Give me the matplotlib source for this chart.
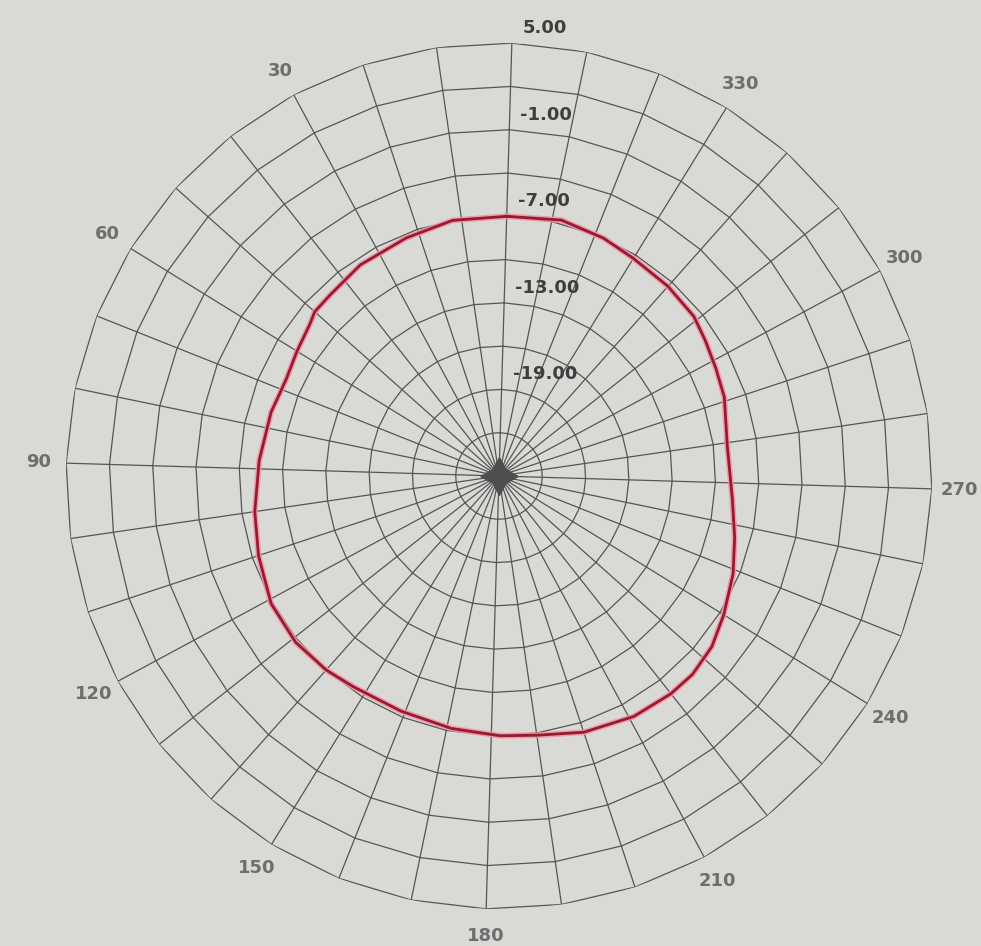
import numpy as np
import matplotlib
matplotlib.use("Agg")
import matplotlib.pyplot as plt
from matplotlib.transforms import offset_copy

# measured pattern (angle in degrees, level in dB)
angle_deg = np.array([0, 12, 23, 35, 45, 50, 53, 60, 67, 72, 76, 88, 100, 110,
                      121, 131, 140, 147, 159, 171, 182, 190, 200, 211, 220,
                      226, 233, 240, 249, 257, 266, 279, 291, 298, 305, 311,
                      320, 330, 338, 348, 360])
level_db = np.array([-7.0, -7.0, -7.3, -7.5, -7.85, -7.9, -8.2, -8.55, -8.8,
                     -8.75, -8.6, -8.35, -7.9, -7.45, -6.9, -6.8, -7.0, -7.25,
                     -7.35, -7.2, -7.0, -6.85, -6.3, -5.9, -5.78, -5.8, -6.1,
                     -6.7, -7.42, -8.12, -8.75, -9.05, -8.46, -8.23, -7.9,
                     -7.55, -7.4, -7.28, -7.0, -6.75, -7.0])

# grid setup
r_min, r_max = -25, 5
ring_db = [-22, -19, -16, -13, -10, -7, -4, -1, 2, 5]
radial_labels = ["5.00", "-1.00", "-7.00", "-13.00", "-19.00"]
radial_label_db = [5, -1, -7, -13, -19]
spoke_deg = np.arange(0, 360, 10)
angle_labels = [30, 60, 90, 120, 150, 180, 210, 240, 270, 300, 330]

bg = "#d9d9d6"
grid_col = "#555555"

fig = plt.figure(figsize=(9.81, 9.46), dpi=100, facecolor=bg)
ax = fig.add_axes([66 / 981, 37 / 946, 866 / 981, 866 / 946], projection="polar")
ax.set_facecolor(bg)
ax.patch.set_alpha(0)
ax.set_theta_zero_location("N")
ax.set_theta_direction(1)
# the photo is turned a little clockwise
ax.set_theta_offset(np.pi / 2 - np.deg2rad(1.7))
ax.set_rlim(r_min, r_max)
ax.set_xticks([])
ax.set_yticks([])
ax.grid(False)
ax.spines["polar"].set_visible(False)

# spokes
for a in spoke_deg:
    ax.plot([np.deg2rad(a), np.deg2rad(a)], [r_min, r_max], color=grid_col, lw=0.9, zorder=1)

# polygon rings
ring_theta = np.deg2rad(np.append(spoke_deg, 360))
for rv in ring_db:
    ax.plot(ring_theta, [rv] * len(ring_theta), color=grid_col, lw=0.9, zorder=1)

# pattern
th = np.deg2rad(angle_deg)
ax.plot(th, level_db, color="#ec95a3", lw=4.2, alpha=0.85, zorder=3,
        solid_joinstyle="round")
ax.plot(th, level_db, color="#9c1730", lw=2.0, zorder=4, solid_joinstyle="round")

# center star
ax.plot([0], [r_min], marker=(4, 1, 0), markersize=27, color="#4e4e4e", zorder=5)

# radial labels
trans = offset_copy(ax.transData, fig=fig, x=11, y=15, units="dots")
for lab, rv in zip(radial_labels, radial_label_db):
    ax.text(0, rv, lab, transform=trans, ha="left", va="center",
            fontsize=13, fontweight="bold", color="#3e3e3e", zorder=6)

# angle labels
for a in angle_labels:
    ax.text(np.deg2rad(a), 6.9, str(a), ha="center", va="center", clip_on=False,
            fontsize=13, fontweight="bold", color="#6e6e6e")

fig.savefig("out.png", dpi=100, facecolor=bg)
